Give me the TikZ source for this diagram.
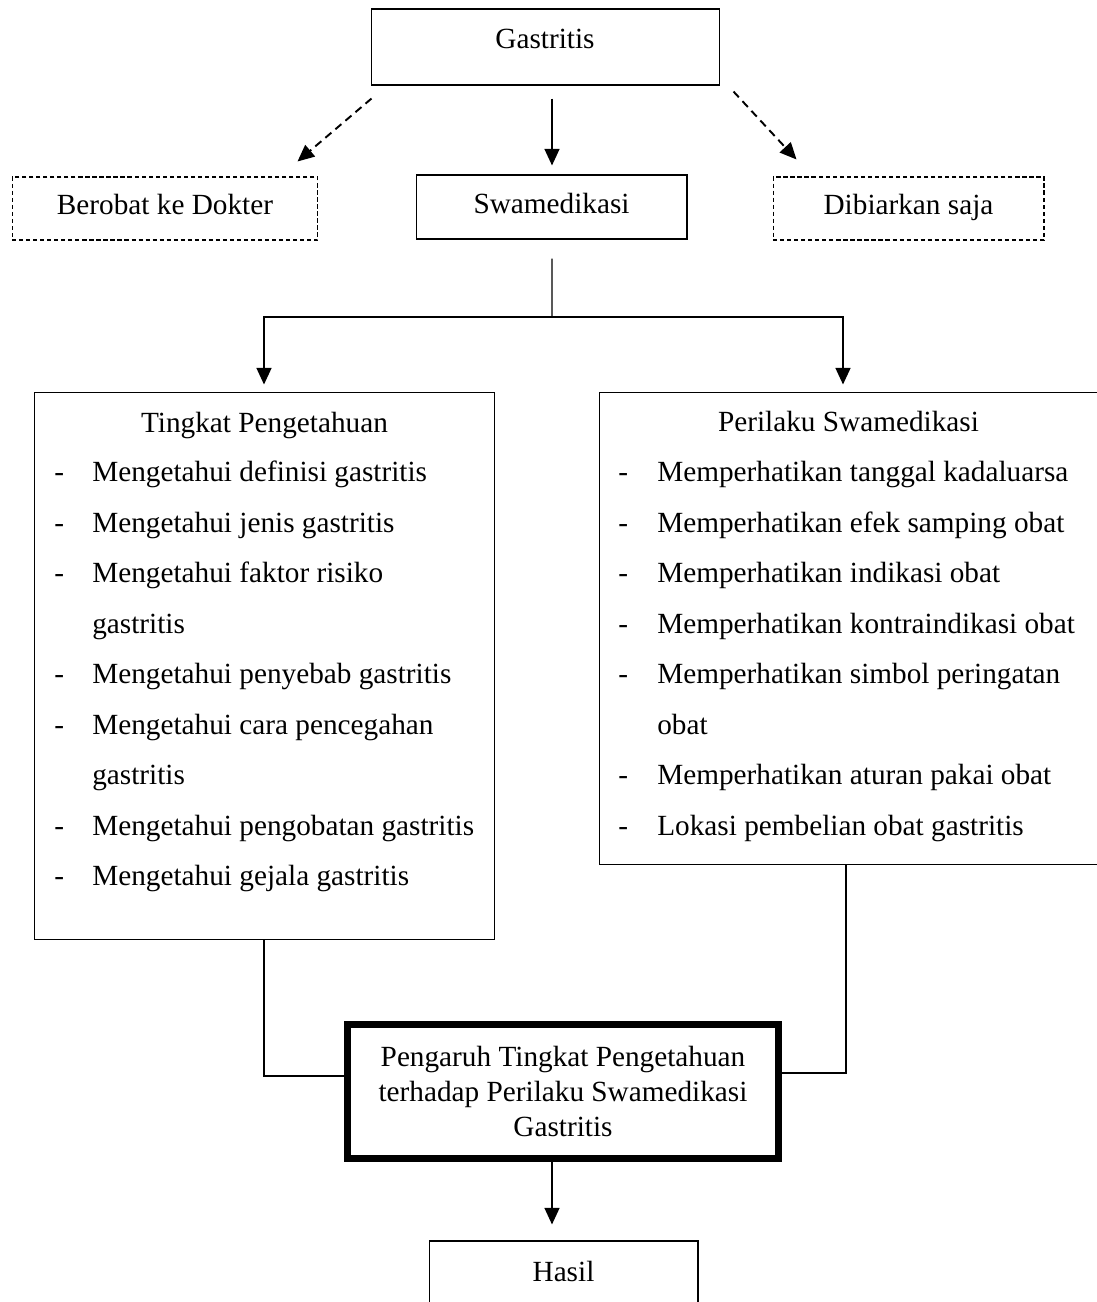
\documentclass[tikz,border=0pt]{standalone}
\usepackage{fontspec}
\setmainfont{Liberation Serif}
\usetikzlibrary{arrows.meta,calc,positioning}
\tikzset{
  box/.style={draw, line width=0.6pt, text height=11pt, text depth=4pt, inner sep=0pt},
  dashbox/.style={box, dash pattern=on 2.4pt off 1.6pt},
  thickbox/.style={draw, line width=4pt, align=center, inner sep=0pt},
  link/.style={line width=0.6pt},
  arr/.style={line width=1.1pt, -{Triangle[length=9.5pt,width=8.5pt]}},
  dasharr/.style={arr, dash pattern=on 4.5pt off 3pt},
  item/.style={anchor=base west, inner sep=0pt},
  title/.style={anchor=base, inner sep=0pt},
}
\begin{document}
\begin{tikzpicture}[x=0.02cm, y=-0.02cm, font=\fontsize{16.65pt}{20pt}\selectfont]
\useasboundingbox (0,0) rectangle (1097,1302);
\clip (0,0) rectangle (1097,1302);

% boxes
\node[box, minimum width=6.98cm, minimum height=1.52cm] (gas) at (545.5,47) {};
\node[title] (gastxt) at (545,48) {Gastritis};
\node[dashbox, minimum width=6.12cm, minimum height=1.26cm] (berobat) at (165,208.5) {Berobat ke Dokter};
\node[box, minimum width=5.42cm, minimum height=1.28cm] (swa) at (551.5,207) {Swamedikasi};
\node[dashbox, minimum width=5.42cm, minimum height=1.26cm] (biar) at (908.5,208.5) {Dibiarkan saja};
\node[box, minimum width=9.22cm, minimum height=10.96cm] (tingkat) at (264.5,666) {};
\node[box, minimum width=10cm, minimum height=9.46cm] (peri) at (849,628.5) {};
\node[thickbox, minimum width=8.62cm, minimum height=2.68cm] (pengaruh) at (563,1091.5)
  {Pengaruh Tingkat Pengetahuan\\terhadap Perilaku Swamedikasi\\Gastritis};
\node[box, minimum width=5.38cm, minimum height=1.98cm] (hasil) at (563.5,1290.5) {};
\node[title] (hasiltxt) at (563.5,1281) {Hasil};

% list contents
\node[title] (tptitle) at (264.5,432) {Tingkat Pengetahuan};
\foreach \k/\txt in {1/Mengetahui definisi gastritis, 2/Mengetahui jenis gastritis,
    3/Mengetahui faktor risiko, 4/gastritis, 5/Mengetahui penyebab gastritis,
    6/Mengetahui cara pencegahan, 7/gastritis, 8/Mengetahui pengobatan gastritis,
    9/Mengetahui gejala gastritis}{
  \pgfmathsetmacro{\yy}{431+50.5*\k}
  \node[item] (tp\k) at (92,\yy) {\txt};
}
\foreach \k in {1,2,3,5,6,8,9}{
  \pgfmathsetmacro{\yy}{431+50.5*\k}
  \node[item] (tpd\k) at (54,\yy) {-};
}
\node[title] (pstitle) at (848.5,431) {Perilaku Swamedikasi};
\foreach \k/\txt in {1/Memperhatikan tanggal kadaluarsa, 2/Memperhatikan efek samping obat,
    3/Memperhatikan indikasi obat, 4/Memperhatikan kontraindikasi obat,
    5/Memperhatikan simbol peringatan, 6/obat, 7/Memperhatikan aturan pakai obat,
    8/Lokasi pembelian obat gastritis}{
  \pgfmathsetmacro{\yy}{431+50.5*\k}
  \node[item] (ps\k) at (657,\yy) {\txt};
}
\foreach \k in {1,2,3,4,5,7,8}{
  \pgfmathsetmacro{\yy}{431+50.5*\k}
  \node[item] (psd\k) at (618,\yy) {-};
}

% connectors
\draw[dasharr] ($(gas.south west)+(1,13)$) -- ($(berobat.north east)+(-21,-15)$);
\draw[arr] ($(gas.south -| swa.north)+(0.5,13)$) -- ($(swa.north)+(0.5,-9)$);
\draw[dasharr] ($(gas.south east)+(13,6)$) -- ($(biar.north west)+(24,-17)$);

\coordinate (split) at (552,317);
\draw[link] ($(swa.south)+(0.5,19)$) -- (split);
\draw[arr] (split) -| ($(tingkat.north)+(-0.5,-7)$);
\draw[arr] (split) -| ($(peri.north)+(-6,-7)$);

\draw[link] ($(tingkat.south)+(-0.5,0)$) |- ($(pengaruh.west)+(0,-15.5)$);
\draw[link] ($(peri.south)+(-3,0)$) |- ($(pengaruh.east)+(0,-18.5)$);
\draw[arr] ($(pengaruh.south)+(-11,0)$) -- ($(hasil.north)+(-11.5,-16)$);
\end{tikzpicture}
\end{document}
